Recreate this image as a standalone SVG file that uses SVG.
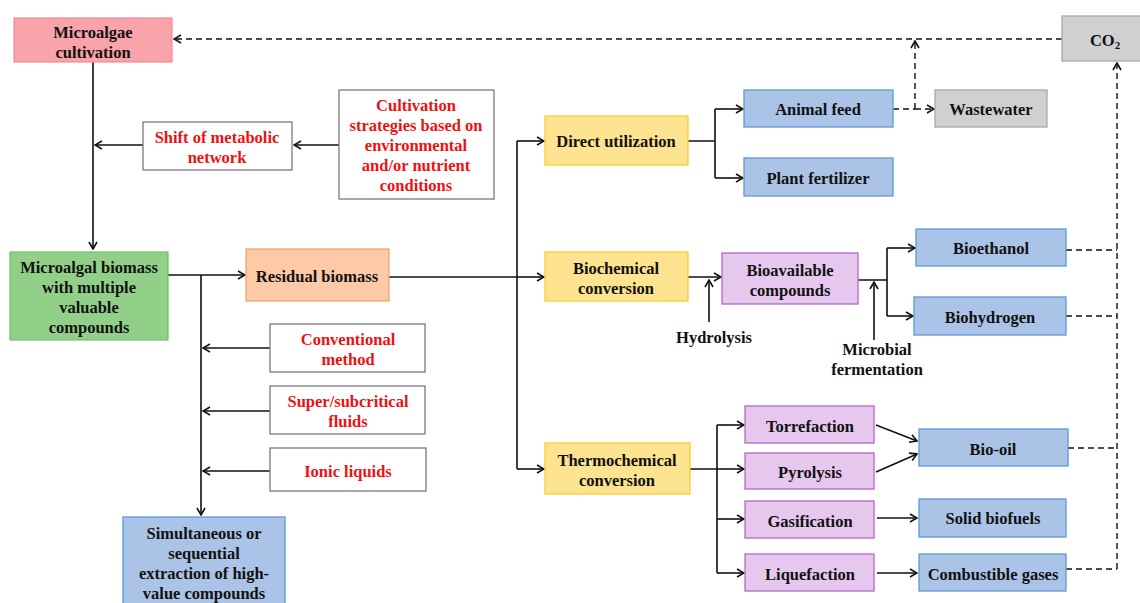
<svg xmlns="http://www.w3.org/2000/svg" width="1140" height="603" viewBox="0 0 1140 603">
<style>
text{font-family:"Liberation Serif","Times New Roman",serif;font-weight:bold;font-size:16.5px;text-anchor:middle;fill:#111}
.red{fill:#ee1111}
.pink{fill:#f9a3aa;stroke:#f48a94;stroke-width:1.2}
.white{fill:#fff;stroke:#7a7a7a;stroke-width:1.3}
.green{fill:#92d08a;stroke:#72c06a;stroke-width:1.2}
.orange{fill:#fdc9a6;stroke:#f5a060;stroke-width:1.2}
.blue{fill:#aac3e6;stroke:#5b9bd5;stroke-width:1.3}
.yellow{fill:#fee490;stroke:#fcc92a;stroke-width:1.2}
.purple{fill:#e6c7ee;stroke:#b468c8;stroke-width:1.3}
.gray{fill:#d0d0d0;stroke:#a8a8a8;stroke-width:1.3}
.ln{fill:none;stroke:#111;stroke-width:1.6}
.arr{marker-end:url(#ah)}
.dash{fill:none;stroke:#111;stroke-width:1.4;stroke-dasharray:6 4}
</style>
<defs>
<marker id="ah" viewBox="0 0 10 10" refX="9" refY="5" markerWidth="10" markerHeight="10" markerUnits="userSpaceOnUse" orient="auto">
<path d="M2,1 L9,5 L2,9" fill="none" stroke="#111" stroke-width="1.6"/>
</marker>
</defs>
<g id="connectors">
<path class="dash arr" d="M1062,39 H174"/>
<path class="ln arr" d="M93,62 V249"/>
<path class="ln arr" d="M339,145 H294"/>
<path class="ln arr" d="M143,145 H95"/>
<path class="ln arr" d="M168,275 H245"/>
<path class="ln arr" d="M201,275 V515"/>
<path class="ln arr" d="M270,348 H203"/>
<path class="ln arr" d="M270,411 H203"/>
<path class="ln arr" d="M270,471 H203"/>
<path class="ln" d="M389,277 H517"/>
<path class="ln" d="M517,141 V469"/>
<path class="ln arr" d="M517,141 H544"/>
<path class="ln arr" d="M517,277 H544"/>
<path class="ln arr" d="M517,469 H544"/>
<path class="ln" d="M688,141 H715 M715,109 V178"/>
<path class="ln arr" d="M715,109 H743"/>
<path class="ln arr" d="M715,178 H743"/>
<path class="dash" d="M893,109 H915"/>
<path class="dash arr" d="M915,109 V41"/>
<path class="dash arr" d="M915,109 H934"/>
<path class="ln arr" d="M688,277 H721"/>
<path class="ln arr" d="M709,322 V280"/>
<path class="ln" d="M858,280 H887 M887,248 V316"/>
<path class="ln arr" d="M887,248 H915"/>
<path class="ln arr" d="M887,316 H913"/>
<path class="ln arr" d="M874,340 V282"/>
<path class="dash" d="M1066,250 H1117 M1066,316 H1117 M1068,448 H1117 M1066,569 H1117"/>
<path class="dash arr" d="M1117,569 V63"/>
<path class="ln" d="M690,469 H717 M717,425 V573"/>
<path class="ln arr" d="M717,425 H744"/>
<path class="ln arr" d="M717,469 H744"/>
<path class="ln arr" d="M717,519 H744"/>
<path class="ln arr" d="M717,573 H744"/>
<path class="ln arr" d="M876,425 L917,441"/>
<path class="ln arr" d="M876,472 L917,454"/>
<path class="ln arr" d="M877,518 H917"/>
<path class="ln arr" d="M877,573 H917"/>
</g>
<g id="cultivation"><rect class="pink" x="14" y="18" width="158" height="44"/><text x="93" y="38">Microalgae</text><text x="93" y="58">cultivation</text></g>
<g id="co2"><rect class="gray" x="1062" y="16" width="80" height="45"/><text x="1105" y="46">CO<tspan font-size="11" dy="3">2</tspan></text></g>
<g id="shift"><rect class="white" x="143" y="122" width="149" height="48"/><text class="red" x="217" y="143">Shift of metabolic</text><text class="red" x="217" y="163">network</text></g>
<g id="strategies"><rect class="white" x="339" y="90" width="155" height="109"/><text class="red" x="416" y="111">Cultivation</text><text class="red" x="416" y="131">strategies based on</text><text class="red" x="416" y="151">environmental</text><text class="red" x="416" y="171">and/or nutrient</text><text class="red" x="416" y="191">conditions</text></g>
<g id="biomass"><rect class="green" x="10" y="252" width="158" height="88"/><text x="89" y="273">Microalgal biomass</text><text x="89" y="293">with multiple</text><text x="89" y="313">valuable</text><text x="89" y="333">compounds</text></g>
<g id="residual"><rect class="orange" x="246" y="249" width="143" height="52"/><text x="317" y="282">Residual biomass</text></g>
<g id="conventional"><rect class="white" x="270" y="324" width="155" height="48"/><text class="red" x="348" y="345">Conventional</text><text class="red" x="348" y="365">method</text></g>
<g id="supercritical"><rect class="white" x="270" y="386" width="155" height="48"/><text class="red" x="348" y="407">Super/subcritical</text><text class="red" x="348" y="427">fluids</text></g>
<g id="ionic"><rect class="white" x="270" y="448" width="156" height="43"/><text class="red" x="348" y="477">Ionic liquids</text></g>
<g id="extraction"><rect class="blue" x="123" y="517" width="162" height="90"/><text x="204" y="539">Simultaneous or</text><text x="204" y="559">sequential</text><text x="204" y="579">extraction of high-</text><text x="204" y="599">value compounds</text></g>
<g id="direct"><rect class="yellow" x="545" y="116" width="143" height="49"/><text x="616" y="147">Direct utilization</text></g>
<g id="biochemical"><rect class="yellow" x="545" y="252" width="143" height="49"/><text x="616" y="274">Biochemical</text><text x="616" y="294">conversion</text></g>
<g id="thermochemical"><rect class="yellow" x="545" y="443" width="145" height="51"/><text x="617" y="466">Thermochemical</text><text x="617" y="486">conversion</text></g>
<g id="animal"><rect class="blue" x="744" y="90" width="149" height="37"/><text x="818" y="115">Animal feed</text></g>
<g id="plant"><rect class="blue" x="744" y="158" width="149" height="38"/><text x="818" y="184">Plant fertilizer</text></g>
<g id="wastewater"><rect class="gray" x="935" y="90" width="112" height="37"/><text x="991" y="115">Wastewater</text></g>
<g id="bioavailable"><rect class="purple" x="722" y="253" width="136" height="51"/><text x="790" y="276">Bioavailable</text><text x="790" y="296">compounds</text></g>
<g id="hydrolysis"><text x="714" y="343">Hydrolysis</text></g>
<g id="fermentation"><text x="877" y="355">Microbial</text><text x="877" y="375">fermentation</text></g>
<g id="bioethanol"><rect class="blue" x="916" y="229" width="150" height="37"/><text x="991" y="254">Bioethanol</text></g>
<g id="biohydrogen"><rect class="blue" x="914" y="297" width="152" height="38"/><text x="990" y="323">Biohydrogen</text></g>
<g id="torrefaction"><rect class="purple" x="745" y="406" width="129" height="37"/><text x="810" y="432">Torrefaction</text></g>
<g id="pyrolysis"><rect class="purple" x="745" y="453" width="129" height="36"/><text x="810" y="478">Pyrolysis</text></g>
<g id="gasification"><rect class="purple" x="745" y="501" width="129" height="37"/><text x="810" y="527">Gasification</text></g>
<g id="liquefaction"><rect class="purple" x="745" y="554" width="129" height="37"/><text x="810" y="580">Liquefaction</text></g>
<g id="biooil"><rect class="blue" x="919" y="429" width="149" height="37"/><text x="993" y="455">Bio-oil</text></g>
<g id="solid"><rect class="blue" x="919" y="499" width="147" height="38"/><text x="993" y="524">Solid biofuels</text></g>
<g id="gases"><rect class="blue" x="919" y="554" width="147" height="37"/><text x="993" y="580">Combustible gases</text></g>
</svg>
